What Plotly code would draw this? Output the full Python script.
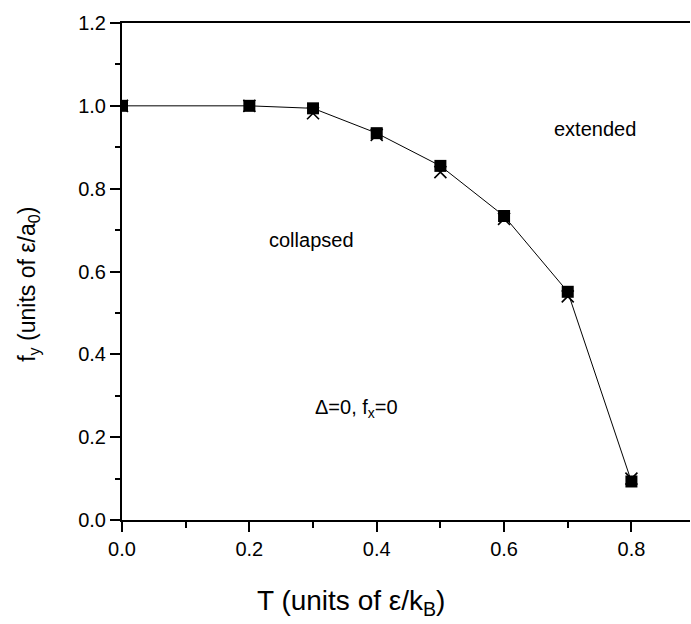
import plotly.graph_objects as go

T = [0.0, 0.2, 0.3, 0.4, 0.5, 0.6, 0.7, 0.8]
fy_squares = [1.0, 1.0, 0.994, 0.934, 0.855, 0.734, 0.551, 0.093]
fy_crosses = [1.0, 1.0, 0.982, 0.930, 0.840, 0.727, 0.540, 0.100]
x_ticks = [0.0, 0.2, 0.4, 0.6, 0.8]
y_ticks = [0.0, 0.2, 0.4, 0.6, 0.8, 1.0, 1.2]

FONT = "Liberation Sans, Arial, sans-serif"

fig = go.Figure()
fig.add_trace(go.Scatter(x=T, y=fy_crosses, mode="markers",
                         marker=dict(symbol="x-thin", size=12, color="black",
                                     line=dict(color="black", width=1.6)),
                         showlegend=False))
fig.add_trace(go.Scatter(x=T, y=fy_squares, mode="lines+markers",
                         line=dict(color="black", width=1),
                         marker=dict(symbol="square", size=12, color="black"),
                         showlegend=False))

fig.update_layout(
    width=691, height=624,
    margin=dict(l=122, r=1, t=23, b=104),
    paper_bgcolor="white", plot_bgcolor="white",
    font=dict(family=FONT, color="black", size=20),
    xaxis=dict(range=[0, 0.892], tickvals=x_ticks, tickformat=".1f",
               showline=True, linecolor="black", linewidth=2, mirror=True,
               ticks="outside", ticklen=10, tickwidth=1.5, tickcolor="black",
               minor=dict(dtick=0.1, tick0=0, ticks="outside", ticklen=6,
                          tickwidth=1.5, tickcolor="black"),
               showgrid=False, zeroline=False,
               tickfont=dict(size=20)),
    yaxis=dict(range=[0, 1.2], tickvals=y_ticks, tickformat=".1f",
               showline=True, linecolor="black", linewidth=2, mirror=False,
               ticks="outside", ticklen=10, tickwidth=1.5, tickcolor="black",
               minor=dict(dtick=0.1, tick0=0, ticks="outside", ticklen=5,
                          tickwidth=1.5, tickcolor="black"),
               showgrid=False, zeroline=False,
               tickfont=dict(size=20)),
    annotations=[
        dict(x=0.403, y=-0.165, xref="paper", yref="paper",
             text="T (units of ε/k<sub>B</sub>)", showarrow=False,
             font=dict(size=28), xanchor="center", yanchor="middle"),
        dict(x=-0.164, y=0.475, xref="paper", yref="paper",
             text="f<sub>y</sub> (units of ε/a<sub>0</sub>)", showarrow=False,
             font=dict(size=23), textangle=-90, xanchor="center", yanchor="middle"),
        dict(x=0.743, y=0.945, xref="x", yref="y", text="extended",
             showarrow=False, font=dict(size=20)),
        dict(x=0.297, y=0.675, xref="x", yref="y", text="collapsed",
             showarrow=False, font=dict(size=20)),
        dict(x=0.368, y=0.27, xref="x", yref="y", text="Δ=0, f<sub>x</sub>=0",
             showarrow=False, font=dict(size=20)),
    ],
)

fig.write_html("out.html")
